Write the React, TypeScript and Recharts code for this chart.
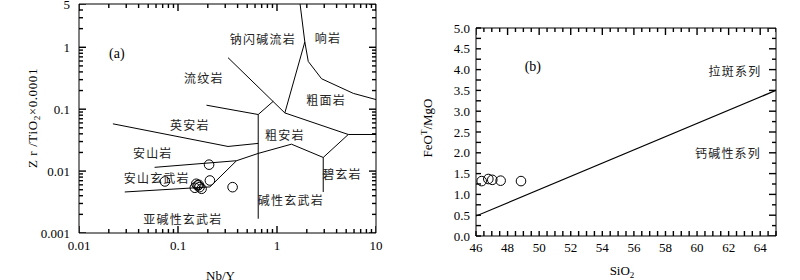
import React from 'react';
import { ScatterChart, Scatter, XAxis, YAxis, ReferenceLine } from 'recharts';

const SERIF = '"Liberation Serif", "Times New Roman", serif';
const CJK = '"Noto Sans CJK SC", sans-serif';

// ---- (a) Nb/Y vs Zr/TiO2*0.0001 ----
const nbY = [0.206, 0.21, 0.0737, 0.356, 0.158, 0.148, 0.173, 0.153, 0.165, 0.162];
const zrTi = [0.0127, 0.00705, 0.0068, 0.0055, 0.00586, 0.00538, 0.00518, 0.00624, 0.0055, 0.006];

// field boundaries, [Nb/Y, Zr/TiO2] vertices
const boundaries: [number, number][][] = [
  [[1.71, 5], [1.91, 1.22], [2.07, 0.59], [2.82, 0.31], [5.9, 0.18], [10, 0.143]],
  [[1.91, 1.22], [1.2, 0.087]],
  [[0.32, 0.68], [1.2, 0.087]],
  [[1.2, 0.087], [5.25, 0.039], [10, 0.039]],
  [[5.25, 0.039], [2.93, 0.0166], [2.93, 0.0046]],
  [[0.39, 0.0147], [0.646, 0.0193], [1.4, 0.0272], [2.93, 0.0166]],
  [[0.646, 0.082], [0.646, 0.0017]],
  [[0.646, 0.082], [0.916, 0.134]],
  [[0.194, 0.116], [0.646, 0.082]],
  [[0.022, 0.058], [0.32, 0.025], [0.646, 0.028]],
  [[0.058, 0.0115], [0.39, 0.0147]],
  [[0.39, 0.0147], [0.21, 0.00555], [0.029, 0.0046]],
];

const fieldNames = ['钠闪碱流岩', '响岩', '流纹岩', '粗面岩', '英安岩', '粗安岩', '安山岩', '碧玄岩', '安山玄武岩', '碱性玄武岩', '亚碱性玄武岩'];
const fieldX = [0.72, 3.27, 0.1825, 3.13, 0.1316, 1.2, 0.0556, 4.53, 0.061, 1.38, 0.112];
const fieldY = [1.37, 1.42, 0.325, 0.1445, 0.0575, 0.0384, 0.0198, 0.0091, 0.00787, 0.0035, 0.00174];

const nbYMajor = [0.01, 0.1, 1, 10];
const zrTiMajor = [0.001, 0.01, 0.1, 1, 5];
const logSteps = [1, 2, 3, 4, 5, 6, 7, 8, 9];
const nbYTicks = [0.01, 0.1, 1].flatMap((d) => logSteps.map((s) => +(d * s).toPrecision(3))).concat([10]);
const zrTiTicks = [0.001, 0.01, 0.1].flatMap((d) => logSteps.map((s) => +(d * s).toPrecision(3))).concat([1, 2, 3, 4, 5]);

// ---- (b) SiO2 vs FeOT/MgO ----
const sio2 = [46.36, 46.78, 47.03, 47.56, 48.85];
const feoMgo = [1.32, 1.37, 1.35, 1.33, 1.32];
const dividerLine: [number, number][] = [[46, 0.48], [65, 3.5]];
const seriesNames = ['拉斑系列', '钙碱性系列'];
const seriesX = [62.4, 61.96];
const seriesY = [3.97, 2.0];

const sio2Major = [46, 48, 50, 52, 54, 56, 58, 60, 62, 64];
const ratioMajor = [0, 0.5, 1, 1.5, 2, 2.5, 3, 3.5, 4, 4.5, 5];
const sio2Ticks = Array.from({ length: 39 }, (_, i) => 46 + i * 0.5);
const ratioTicks = Array.from({ length: 21 }, (_, i) => i * 0.25);

const toPts = (line: [number, number][]) => line.map(([x, y]) => ({ x, y }));
const samplesA = nbY.map((x, i) => ({ x, y: zrTi[i] }));
const labelsA = fieldNames.map((name, i) => ({ x: fieldX[i], y: fieldY[i], name }));
const samplesB = sio2.map((x, i) => ({ x, y: feoMgo[i] }));
const labelsB = seriesNames.map((name, i) => ({ x: seriesX[i], y: seriesY[i], name }));

const isMajor = (majors: number[], v: number) =>
  majors.some((m) => Math.abs(m - v) <= 1e-6 * Math.max(Math.abs(m), 1e-3));

// inward tick marks on the four frame sides, placed on the domain edges
const edgeTicks = (xt: number[], xm: number[], yt: number[], ym: number[], xd: number[], yd: number[]) => ({
  bottom: xt.map((x) => ({ x, y: yd[0], major: isMajor(xm, x) })),
  top: xt.map((x) => ({ x, y: yd[1], major: isMajor(xm, x) })),
  left: yt.map((y) => ({ x: xd[0], y, major: isMajor(ym, y) })),
  right: yt.map((y) => ({ x: xd[1], y, major: isMajor(ym, y) })),
});
const ticksA = edgeTicks(nbYTicks, nbYMajor, zrTiTicks, zrTiMajor, [0.01, 10], [0.001, 5]);
const ticksB = edgeTicks(sio2Ticks, sio2Major, ratioTicks, ratioMajor, [46, 65], [0, 5]);

const tickLen = (p: any) => (p.payload.major ? 7 : 4);
const markUp = (p: any) => <path d={`M${p.cx},${p.cy}v${-tickLen(p)}`} stroke="#000" strokeWidth={1.4} />;
const markDown = (p: any) => <path d={`M${p.cx},${p.cy}v${tickLen(p)}`} stroke="#000" strokeWidth={1.4} />;
const markRight = (p: any) => <path d={`M${p.cx},${p.cy}h${tickLen(p)}`} stroke="#000" strokeWidth={1.4} />;
const markLeft = (p: any) => <path d={`M${p.cx},${p.cy}h${-tickLen(p)}`} stroke="#000" strokeWidth={1.4} />;

const Nothing = () => <g />;
const Ring = (p: any) => <circle cx={p.cx} cy={p.cy} r={4.8} fill="none" stroke="#000" strokeWidth={1} />;
const FieldText = (p: any) => (
  <text x={p.cx} y={p.cy} textAnchor="middle" dominantBaseline="central" fontFamily={CJK} fontSize={12} letterSpacing={1.2} fill="#222">
    {p.payload.name}
  </text>
);
const TagText = (p: any) => (
  <text x={p.cx} y={p.cy} textAnchor="middle" dominantBaseline="central" fontFamily={SERIF} fontSize={14} fill="#000">
    {p.payload.name}
  </text>
);

const axisLine = { stroke: '#000', strokeWidth: 1 };
const tickFont = { fontFamily: SERIF, fontSize: 13, fill: '#000' };
const fmtA = (majors: number[]) => (v: number) => (isMajor(majors, v) ? String(v) : '');
const fmtB = (v: number) => (isMajor(ratioMajor, v) ? v.toFixed(1) : '');

function PanelA() {
  return (
    <ScatterChart width={400} height={280} margin={{ top: 4, right: 24, bottom: 0, left: 0 }}>
      <XAxis
        dataKey="x" type="number" scale="log" domain={[0.01, 10]} allowDataOverflow
        ticks={nbYTicks} interval={0} height={47} tickSize={0} tickMargin={8} tickLine={false} axisLine={axisLine}
        tick={tickFont} tickFormatter={fmtA(nbYMajor)}
        label={{ value: 'Nb/Y', position: 'insideBottom', offset: 0, dx: -7, fontFamily: SERIF, fontSize: 13, fill: '#000' }}
      />
      <YAxis
        dataKey="y" type="number" scale="log" domain={[0.001, 5]} allowDataOverflow
        ticks={zrTiTicks} interval={0} width={79} tickSize={0} tickMargin={9} tickLine={false} axisLine={axisLine}
        tick={tickFont} tickFormatter={fmtA(zrTiMajor)}
        label={{
          content: () => (
            <text transform="translate(32,118) rotate(-90)" textAnchor="middle" dy="0.35em" fontFamily={SERIF} fontSize={13} letterSpacing={0.6} fill="#000">
              Z r /TiO<tspan fontSize={9} dy={3}>2</tspan><tspan dy={-3}>×0.0001</tspan>
            </text>
          ),
        }}
      />
      <ReferenceLine y={5} stroke="#000" ifOverflow="visible" />
      <ReferenceLine x={10} stroke="#000" ifOverflow="visible" />
      {boundaries.map((b, i) => (
        <Scatter key={i} data={toPts(b)} line={{ stroke: '#000', strokeWidth: 1 }} shape={Nothing} isAnimationActive={false} />
      ))}
      <Scatter data={labelsA} shape={FieldText} isAnimationActive={false} />
      <Scatter data={[{ x: 0.0241, y: 0.787, name: '(a)' }]} shape={TagText} isAnimationActive={false} />
      <Scatter data={samplesA} shape={Ring} isAnimationActive={false} />
      <Scatter data={ticksA.bottom} shape={markUp} isAnimationActive={false} />
      <Scatter data={ticksA.top} shape={markDown} isAnimationActive={false} />
      <Scatter data={ticksA.left} shape={markRight} isAnimationActive={false} />
      <Scatter data={ticksA.right} shape={markLeft} isAnimationActive={false} />
    </ScatterChart>
  );
}

function PanelB() {
  return (
    <ScatterChart width={400} height={280} margin={{ top: 28, right: 24, bottom: 0, left: 0 }}>
      <XAxis
        dataKey="x" type="number" domain={[46, 65]} allowDataOverflow
        ticks={sio2Ticks} interval={0} height={44} tickSize={-5} tickMargin={12} axisLine={axisLine}
        tickLine={{ stroke: '#000', strokeWidth: 1.4 }}
        tick={tickFont} tickFormatter={(v: number) => (isMajor(sio2Major, v) ? String(v) : '')}
        label={{
          content: () => (
            <text x={222} y={275} textAnchor="middle" fontFamily={SERIF} fontSize={13} fill="#000">
              SiO<tspan fontSize={9} dy={3}>2</tspan>
            </text>
          ),
        }}
      />
      <YAxis
        dataKey="y" type="number" domain={[0, 5]} allowDataOverflow
        ticks={ratioTicks} interval={0} width={76} tickSize={-5} tickMargin={11} axisLine={axisLine}
        tickLine={{ stroke: '#000', strokeWidth: 1.4 }}
        tick={tickFont} tickFormatter={fmtB}
        label={{
          content: () => (
            <text transform="translate(27,128) rotate(-90)" textAnchor="middle" dy="0.35em" fontFamily={SERIF} fontSize={13} fill="#000">
              FeO<tspan fontSize={9} dy={-5}>T</tspan><tspan dy={5}>/MgO</tspan>
            </text>
          ),
        }}
      />
      <ReferenceLine y={5} stroke="#000" ifOverflow="visible" />
      <ReferenceLine x={65} stroke="#000" ifOverflow="visible" />
      <Scatter data={toPts(dividerLine)} line={{ stroke: '#000', strokeWidth: 1.2 }} shape={Nothing} isAnimationActive={false} />
      <Scatter data={labelsB} shape={FieldText} isAnimationActive={false} />
      <Scatter data={[{ x: 49.6, y: 4.07, name: '(b)' }]} shape={TagText} isAnimationActive={false} />
      <Scatter data={samplesB} shape={Ring} isAnimationActive={false} />
      <Scatter data={ticksB.top} shape={markDown} isAnimationActive={false} />
      <Scatter data={ticksB.right} shape={markLeft} isAnimationActive={false} />
    </ScatterChart>
  );
}

export default function App() {
  return (
    <div style={{ position: 'absolute', left: 0, top: 0, width: 800, height: 280, display: 'flex', background: '#fff' }}>
      <PanelA />
      <PanelB />
    </div>
  );
}
